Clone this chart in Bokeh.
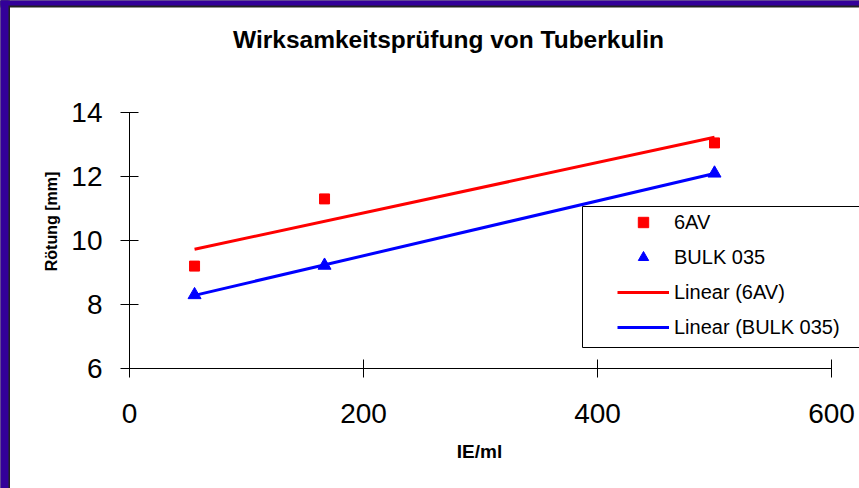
import numpy as np
from bokeh.plotting import figure
from bokeh.models import Label, Legend, LegendItem, BoxAnnotation, FixedTicker
from bokeh.embed import file_html
from bokeh.resources import INLINE

# ---- data ----
dose = [55.6, 166.7, 500.0]          # IE/ml
av6 = [9.2, 11.3, 13.05]             # 6AV, Rötung [mm]
bulk = [8.3, 9.22, 12.1]             # BULK 035, Rötung [mm]
x_ticks = [0, 200, 400, 600]
y_ticks = [6, 8, 10, 12, 14]
title_text = "Wirksamkeitsprüfung von Tuberkulin"
x_label = "IE/ml"
y_label = "Rötung [mm]"
series_names = ["6AV", "BULK 035", "Linear (6AV)", "Linear (BULK 035)"]

FONT = "Liberation Sans"
W, H = 859, 488
# pixel positions of the axis extents (x: 0..600, y: 6..14)
AX0, AX1, AYB, AYT = 129, 831, 368, 112

def px_x(rx):
    return x_ticks[0] + (rx - AX0) / (AX1 - AX0) * (x_ticks[-1] - x_ticks[0])

def px_y(ry):
    return y_ticks[0] + (AYB - ry) / (AYB - AYT) * (y_ticks[-1] - y_ticks[0])

p = figure(width=W, height=H, x_range=(px_x(0), px_x(W)), y_range=(px_y(H), px_y(0)),
           output_backend="svg", toolbar_location=None,
           min_border_left=0, min_border_right=0, min_border_top=0, min_border_bottom=0)
p.title.visible = False
p.outline_line_color = None
p.xgrid.visible = False
p.ygrid.visible = False
p.background_fill_color = "white"
p.border_fill_color = "white"

p.xaxis.fixed_location = y_ticks[0]
p.yaxis.fixed_location = x_ticks[0]
p.xaxis.bounds = (x_ticks[0], x_ticks[-1])
p.yaxis.bounds = (y_ticks[0], y_ticks[-1])
for ax, ticks in ((p.xaxis[0], x_ticks), (p.yaxis[0], y_ticks)):
    ax.ticker = FixedTicker(ticks=ticks)
    ax.minor_tick_line_color = None
    ax.major_tick_in = 9
    ax.major_tick_out = 9
    ax.axis_line_color = "black"
    ax.major_tick_line_color = "black"
    ax.major_label_text_font = FONT
    ax.major_label_text_font_size = "28px"
    ax.major_label_text_color = "black"
p.xaxis.major_label_standoff = 26
p.yaxis.major_label_standoff = 18

# frame decoration (dark outline + navy band at top and left)
for r_px, b_px, col in ((9.5, 7, "#222222"), (8, 5, "#330099")):
    p.add_layout(BoxAnnotation(left=px_x(-10), right=px_x(r_px), bottom=px_y(H + 10), top=px_y(-10),
                               fill_color=col, fill_alpha=1, line_color=None))
    p.add_layout(BoxAnnotation(left=px_x(-10), right=px_x(W + 10), bottom=px_y(b_px), top=px_y(-10),
                               fill_color=col, fill_alpha=1, line_color=None))

# trend lines (least squares)
xs_fit = np.array([min(dose), max(dose)])
c1 = np.polyfit(dose, av6, 1)
c2 = np.polyfit(dose, bulk, 1)
l1 = p.line(xs_fit, np.polyval(c1, xs_fit), line_color="#ff0000", line_width=3)
l2 = p.line(xs_fit, np.polyval(c2, xs_fit), line_color="#0000ff", line_width=3)
s1 = p.scatter(dose, av6, marker="square", size=10, fill_color="#ff0000", line_color="#ff0000")
s2 = p.scatter(dose, bulk, marker="triangle", size=13, fill_color="#0000ff", line_color="#0000ff")

# legend box
p.add_layout(BoxAnnotation(left=px_x(582), right=px_x(875), top=px_y(206), bottom=px_y(347),
                           fill_color="white", fill_alpha=1, line_color="black", line_alpha=1,
                           line_width=1))

legend = Legend(items=[LegendItem(label=series_names[0], renderers=[s1]),
                       LegendItem(label=series_names[1], renderers=[s2]),
                       LegendItem(label=series_names[2], renderers=[l1]),
                       LegendItem(label=series_names[3], renderers=[l2])],
                location=(617, 148), padding=8, spacing=9,
                glyph_width=52, glyph_height=26, label_height=26, label_standoff=5,
                label_text_font=FONT, label_text_font_size="20px", label_text_color="black",
                border_line_color=None, background_fill_alpha=0)
p.add_layout(legend)

p.add_layout(Label(x=px_x(448), y=px_y(39), text=title_text, text_font=FONT,
                   text_font_size="24.5px", text_font_style="bold", text_color="black",
                   text_align="center", text_baseline="middle"))
p.add_layout(Label(x=px_x(479), y=px_y(451), text=x_label, text_font=FONT,
                   text_font_size="19px", text_font_style="bold", text_color="black",
                   text_align="center", text_baseline="middle"))
p.add_layout(Label(x=px_x(51), y=px_y(221), text=y_label, text_font=FONT,
                   text_font_size="16px", text_font_style="bold", angle=np.pi / 2,
                   text_color="black", text_align="center", text_baseline="middle"))

open("out.html", "w").write(file_html(p, INLINE))
